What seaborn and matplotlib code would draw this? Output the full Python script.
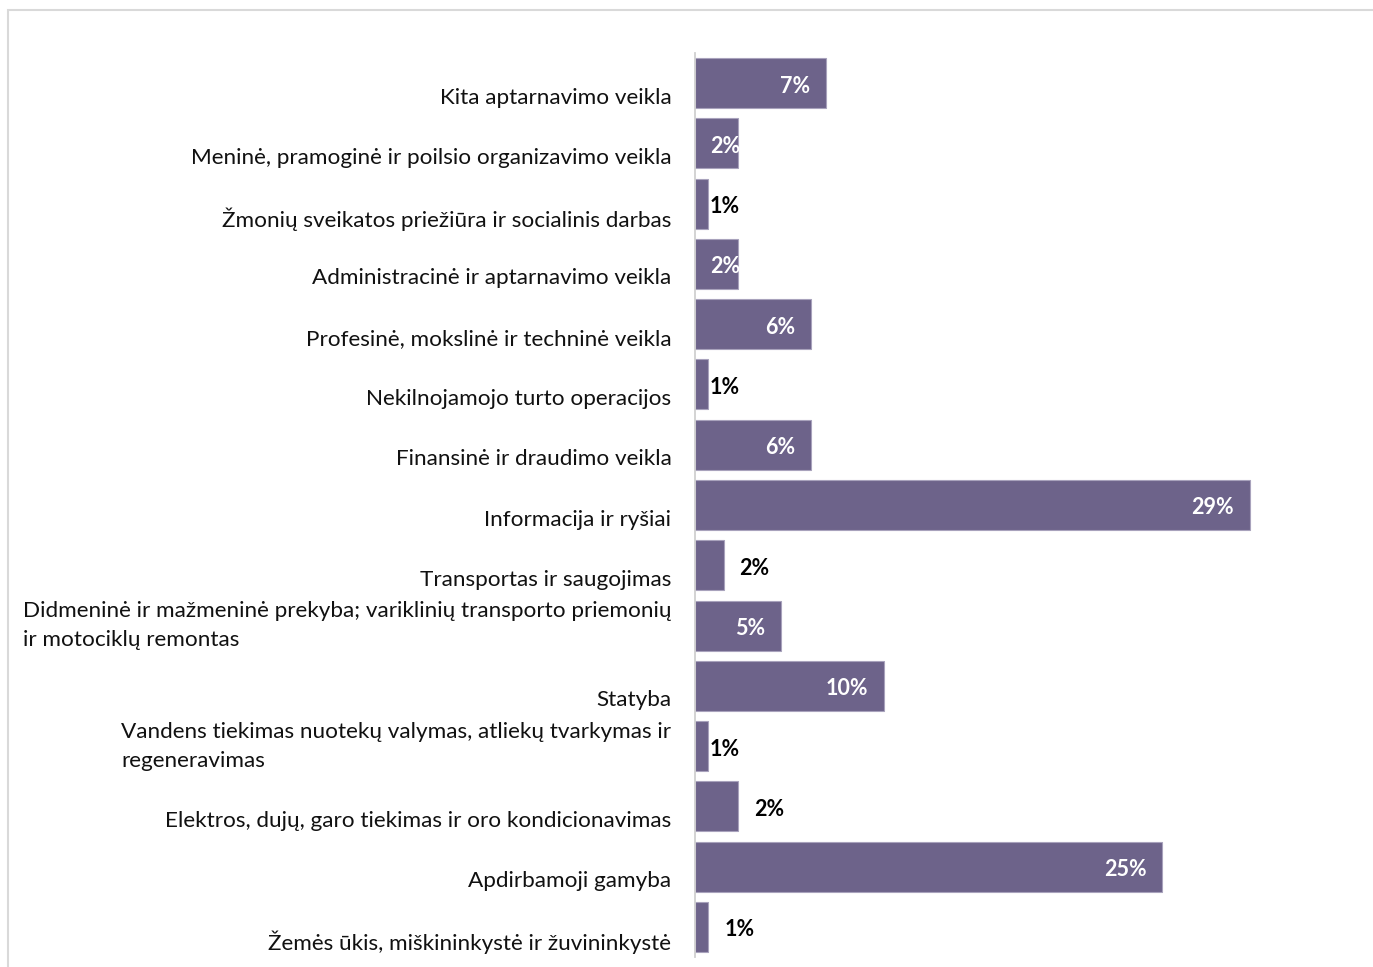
import matplotlib
matplotlib.use("Agg")
import matplotlib.pyplot as plt
import seaborn as sns
from matplotlib.patches import Rectangle

# sectors, top to bottom
sectors = [
    "Kita aptarnavimo veikla",
    "Meninė, pramoginė ir poilsio organizavimo veikla",
    "Žmonių sveikatos priežiūra ir socialinis darbas",
    "Administracinė ir aptarnavimo veikla",
    "Profesinė, mokslinė ir techninė veikla",
    "Nekilnojamojo turto operacijos",
    "Finansinė ir draudimo veikla",
    "Informacija ir ryšiai",
    "Transportas ir saugojimas",
    "Didmeninė ir mažmeninė prekyba; variklinių transporto priemonių\nir motociklų remontas",
    "Statyba",
    "Vandens tiekimas nuotekų valymas, atliekų tvarkymas ir\nregeneravimas",
    "Elektros, dujų, garo tiekimas ir oro kondicionavimas",
    "Apdirbamoji gamyba",
    "Žemės ūkis, miškininkystė ir žuvininkystė",
]
shares = [6.9, 2.25, 0.7, 2.25, 6.1, 0.7, 6.1, 29.2, 1.5, 4.55, 9.95, 0.7, 2.25, 24.6, 0.7]

# where each value label sits: 'end' inside the bar end, 'base' near the axis, 'out' past the bar
label_pos = ['end', 'base', 'base', 'base', 'end', 'base', 'end', 'end',
             'out', 'end', 'end', 'base', 'out', 'end', 'out']
label_col = ['white', 'white', 'black', 'white', 'white', 'black', 'white', 'white',
             'black', 'white', 'white', 'black', 'black', 'white', 'black']

bar_color = '#6d638a'

sns.set_style('white')
plt.rcParams['font.family'] = ['Lato', 'DejaVu Sans']

W, H = 1373, 967
fig = plt.figure(figsize=(W / 100, H / 100), dpi=100)
ax = fig.add_axes([695 / W, 10 / H, 665 / W, 904 / H])

sns.barplot(x=shares, y=sectors, orient='h', color=bar_color, saturation=1,
            width=0.83, edgecolor='#a8a2bc', linewidth=0.8, ax=ax)

ax.set_xlim(0, 35)
ax.set_ylim(14.5, -0.5)
ax.set_xticks([])
ax.set_xlabel('')
ax.set_ylabel('')

# single-line labels sit on the lower line, like the original
shown = [s if '\n' in s else '\n' + s for s in sectors]
ax.set_yticks(range(len(sectors)))
ax.set_yticklabels(shown, fontsize=16.2, color='#111111', va='center',
                   multialignment='left', linespacing=1.57)
ax.tick_params(axis='y', length=0, pad=17)

for side in ['top', 'right', 'bottom']:
    ax.spines[side].set_visible(False)
ax.spines['left'].set_color('#d0d0d0')
ax.spines['left'].set_linewidth(1.3)

for i, v in enumerate(shares):
    txt = f'{v:.0f}%'
    kw = dict(textcoords='offset pixels', va='center', fontsize=15.5,
              fontweight='bold', color=label_col[i])
    if label_pos[i] == 'end':
        ax.annotate(txt, (v, i), xytext=(-16, -3), ha='right', **kw)
    elif label_pos[i] == 'base':
        ax.annotate(txt, (0, i), xytext=(15, -3), ha='left', **kw)
    else:
        ax.annotate(txt, (v, i), xytext=(16, -3), ha='left', **kw)

# light chart-area border
fig.patches.append(Rectangle((8 / W, -0.05), 1.1, (H - 10) / H + 0.05,
                             transform=fig.transFigure, fill=False,
                             edgecolor='#d9d9d9', linewidth=1.5))

fig.savefig('out.png', dpi=100)
